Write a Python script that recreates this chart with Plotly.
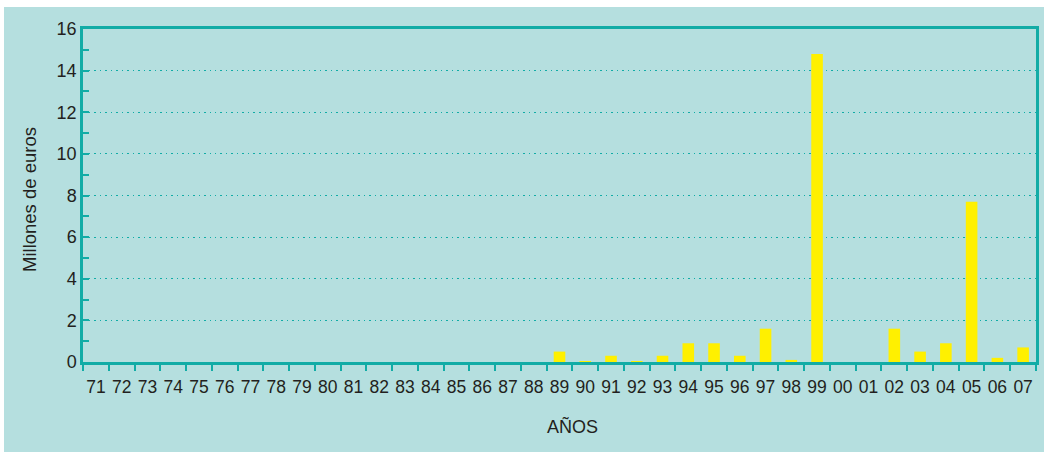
import plotly.graph_objects as go

years = ["71","72","73","74","75","76","77","78","79","80","81","82","83","84","85","86","87","88",
         "89","90","91","92","93","94","95","96","97","98","99","00","01","02","03","04","05","06","07"]
values = [0,0,0,0,0,0,0,0,0,0,0,0,0,0,0,0,0,0,
          0.5,0.03,0.3,0.03,0.3,0.9,0.9,0.3,1.6,0.1,14.8,0,0,1.6,0.5,0.9,7.7,0.2,0.7]

y_title = "Millones de euros"
x_title = "AÑOS"

TEAL = "#12aca6"
BG = "#b5dfdf"
TXT = "#231f20"

fig = go.Figure(go.Bar(x=years, y=values, marker=dict(color="#fff000", line=dict(width=0))))

W, H = 1044, 452
L, R, T, B = 83, 8, 29, 90
pw, ph = W - L - R, H - T - B

def px(x):
    return (x - L) / pw

def py(y):
    return (H - B - y) / ph

fig.add_shape(type="rect", xref="paper", yref="paper", layer="below",
              x0=px(4), x1=px(1044), y0=py(452), y1=py(7),
              fillcolor=BG, line=dict(width=0))

fig.add_annotation(text=y_title, xref="paper", yref="paper", x=px(29), y=py(200),
                   textangle=-90, showarrow=False, font=dict(size=18.5, color=TXT),
                   xanchor="center", yanchor="middle")
fig.add_annotation(text=x_title, xref="paper", yref="paper", x=px(572), y=py(426),
                   showarrow=False, font=dict(size=18, color=TXT),
                   xanchor="center", yanchor="middle")

fig.update_layout(
    width=W, height=H,
    margin=dict(l=L, r=R, t=T, b=B, autoexpand=False),
    paper_bgcolor="white", plot_bgcolor=BG,
    bargap=0.55, showlegend=False,
    font=dict(family="Liberation Sans, Arial, sans-serif", color=TXT),
    xaxis=dict(type="category", tickson="boundaries", ticks="outside", ticklen=6,
               tickwidth=1.5, tickcolor=TEAL, showline=True, linecolor=TEAL, linewidth=2.5,
               mirror=True, showgrid=False, tickfont=dict(size=17.5), tickangle=0,
               ticklabelstandoff=7, automargin=False),
    yaxis=dict(range=[0, 16], dtick=2, ticks="inside", ticklen=6, tickwidth=1.5, tickcolor=TEAL,
               minor=dict(dtick=1, ticks="inside", ticklen=6, tickcolor=TEAL, tickwidth=1.5, showgrid=False),
               showline=True, linecolor=TEAL, linewidth=2.5, mirror=True,
               showgrid=True, gridcolor=TEAL, gridwidth=1.2, griddash="1.5px,4px", zeroline=False,
               tickfont=dict(size=18), automargin=False),
)

fig.write_html("out.html", config={"displayModeBar": False},
               post_script="document.body.style.margin='0';document.body.style.overflow='hidden';")
